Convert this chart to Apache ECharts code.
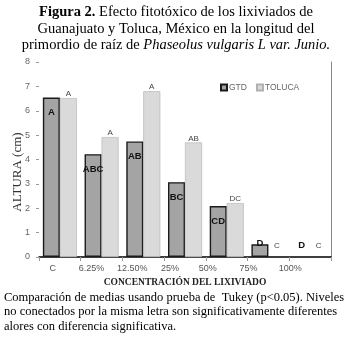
<!DOCTYPE html>
<html><head><meta charset="utf-8">
<script src="https://cdn.jsdelivr.net/npm/echarts@6/dist/echarts.min.js"></script>
<style>html,body{margin:0;padding:0;background:#fff}#c{width:352px;height:345px}</style>
</head><body><div id="c"></div>
<script>
const categories = ['C', '6.25%', '12.50%', '25%', '50%', '75%', '100%'];
const gtd = [6.54, 4.22, 4.74, 3.07, 2.09, 0.52, 0];
const toluca = [6.52, 4.92, 6.80, 4.70, 2.21, 0, 0];
const gtdLetters = ['A', 'ABC', 'AB', 'BC', 'CD', 'D', 'D'];
const tolucaLetters = ['A', 'A', 'A', 'AB', 'DC', 'C', 'C'];
const seriesNames = ['GTD', 'TOLUCA'];
const yTicks = [0, 1, 2, 3, 4, 5, 6, 7, 8];

const narrow = '"Liberation Sans Narrow","Arial Narrow","Liberation Sans",sans-serif';
const serif = '"Liberation Serif","Times New Roman",serif';
const labelShift = [7, 10, 11, 15, 19, 20, 20];
const rich = {};
labelShift.forEach((s, i) => { rich['s' + i] = { padding: [0, s * 2, 0, 0], fontFamily: narrow, fontSize: 9, color: '#555' }; });

const chart = echarts.init(document.getElementById('c'), null, { renderer: 'canvas' });

const gtdData = gtd.map((v, i) => {
  const d = { value: v };
  if (v < 1) {
    d.label = { position: 'top', distance: v > 0 ? -4 : 7 };
  }
  if (v === 0) d.itemStyle = { borderWidth: 0, borderColor: 'transparent', color: 'transparent' };
  return d;
});
const tolData = toluca.map((v, i) => {
  const d = { value: v };
  if (v === 0) { d.label = { distance: 7 }; d.itemStyle = { borderWidth: 0, borderColor: 'transparent', color: 'transparent' }; }
  return d;
});

chart.setOption({
  animation: false,
  legend: {
    left: 215, top: 78, itemWidth: 6, itemHeight: 6, itemGap: 9, icon: 'rect',
    textStyle: { fontFamily: narrow, fontSize: 8.5, color: '#666', padding: [0, 0, 0, -3] },
    data: seriesNames
  },
  grid: { left: 39, right: 21, top: 62, bottom: 88 },
  xAxis: [{
    type: 'category', data: categories,
    axisLine: { show: false },
    axisTick: { show: true, length: 4, lineStyle: { color: '#999' } },
    axisLabel: { interval: 0, margin: 7, formatter: (v, i) => '{s' + i + '|' + v + '}', rich: rich },
    name: 'CONCENTRACIÓN DEL LIXIVIADO', nameLocation: 'middle', nameGap: 21,
    nameTextStyle: { fontFamily: serif, fontWeight: 'bold', fontSize: 9.5, color: '#222', padding: [0, 0, 0, 0] }
  }, {
    type: 'category', data: categories, position: 'top',
    axisLine: { show: true, lineStyle: { color: '#000', width: 1.5 } },
    axisTick: { show: false }, axisLabel: { show: false }
  }],
  yAxis: [{
    type: 'value', min: 0, max: 8, interval: 1,
    axisLine: { show: false },
    axisTick: { show: true, length: 3, lineStyle: { color: '#999' } },
    axisLabel: { margin: 9, fontFamily: narrow, fontSize: 9, color: '#666',
      formatter: v => yTicks.includes(v) ? String(v) : '' },
    splitLine: { show: false }
  }, {
    type: 'value', min: 0, max: 8, interval: 1, position: 'right',
    axisLine: { show: true, lineStyle: { color: '#888', width: 1 } },
    axisTick: { show: false }, axisLabel: { show: false }, splitLine: { show: false }
  }],
  series: [{
    name: seriesNames[0], type: 'bar', data: gtdData,
    barWidth: 17, barGap: '0%',
    itemStyle: { color: '#a4a4a4', borderColor: '#1a1a1a', borderWidth: 1.4 },
    label: {
      show: true, position: 'insideTop', distance: 10,
      formatter: p => gtdLetters[p.dataIndex],
      fontFamily: narrow, fontWeight: 'bold', fontSize: 9.5, color: '#111'
    }
  }, {
    name: seriesNames[1], type: 'bar', data: tolData,
    barWidth: 17,
    itemStyle: { color: '#dadada', borderColor: '#b0b0b0', borderWidth: 0.6 },
    label: {
      show: true, position: 'top', distance: 0,
      formatter: p => tolucaLetters[p.dataIndex],
      fontFamily: narrow, fontSize: 8, color: '#444'
    }
  }],
  graphic: [{
    type: 'text', x: 176, y: 4,
    style: {
      text: '{b|Figura 2.}{n| Efecto fitotóxico de los lixiviados de}\n{n|Guanajuato y Toluca, México en la longitud del}\n{n|primordio de raíz de }{i|Phaseolus vulgaris L var. Junio.}',
      align: 'center', verticalAlign: 'top',
      rich: {
        b: { fontFamily: serif, fontWeight: 'bold', fontSize: 14.5, fill: '#000', lineHeight: 16.5 },
        n: { fontFamily: serif, fontSize: 14.5, fill: '#000', lineHeight: 16.5 },
        i: { fontFamily: serif, fontStyle: 'italic', fontSize: 14.5, fill: '#000', lineHeight: 16.5 }
      }
    }
  }, {
    type: 'text', x: 18, y: 172, rotation: Math.PI / 2,
    style: { text: 'ALTURA (cm)', font: '13px ' + serif, fill: '#333', align: 'center', verticalAlign: 'middle' }
  }, {
    type: 'text', left: 4, top: 290,
    style: {
      text: 'Comparación de medias usando prueba de  Tukey (p<0.05). Niveles\nno conectados por la misma letra son significativamente diferentes\nalores con diferencia significativa.',
      font: '12.5px ' + serif, fill: '#000', lineHeight: 14.5
    }
  }]
});
</script></body></html>
